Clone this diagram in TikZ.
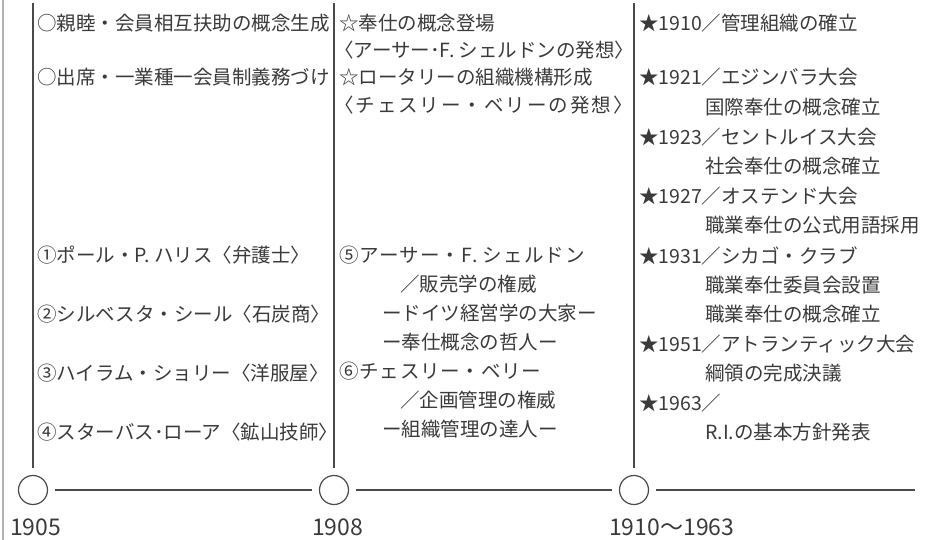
\documentclass[tikz,border=0pt]{standalone}
\usepackage{fontspec}
\setmainfont{Noto Sans CJK JP}
\definecolor{ink}{HTML}{3A3A3A}
\definecolor{rule}{HTML}{4A4A4A}

\begin{document}
\begin{tikzpicture}[x=1pt,y=-1pt,
  txt/.style={anchor=west,inner sep=0pt,text=ink,font=\fontsize{19.5}{20}\selectfont},
  yr/.style={anchor=west,inner sep=0pt,text=ink,font=\fontsize{23}{24}\selectfont},
  era/.style={draw=rule,line width=1.2pt,circle,minimum size=29pt,inner sep=0pt},
  axis/.style={draw=rule,line width=1.8pt}]
\useasboundingbox (0,0) rectangle (940,540);
% edge of the page
\draw[gray!60,line width=1.5pt] (3,0) -- (3,540);
% time axis
\node[era] (c1) at (33,490) {};
\node[era] (c2) at (334,490) {};
\node[era] (c3) at (634,490) {};
\coordinate (t1) at (33,3);
\coordinate (t2) at (334,3);
\coordinate (t3) at (634,3);
\coordinate (axisend) at (915,490);
\foreach \i in {1,2,3}
  \draw[axis,shorten >=7pt] (t\i) -- (c\i.north);
\draw[axis,shorten <=7pt,shorten >=7pt] (c1) -- (c2);
\draw[axis,shorten <=7pt,shorten >=7pt] (c2) -- (c3);
\draw[axis,shorten <=7pt] (c3) -- (axisend);
\node[yr] (y1) at (10,527) {1905};
\node[yr] (y2) at (312,527) {1908};
\node[yr] (y3) at (609,527) {1910〜1963};
% 1905
\foreach \n/\py/\t in {a1/23/○親睦・会員相互扶助の概念生成,a2/77/○出席・一業種一会員制義務づけ,
  a3/255.5/①ポール・P. ハリス〈弁護士〉,a4/314/②シルベスタ・シール〈石炭商〉,
  a5/373/③ハイラム・ショリー〈洋服屋〉,a6/432/④スターバス･ローア〈鉱山技師〉}
  \node[txt] (\n) at (37,\py) {\t};
% 1908
\foreach \n/\px/\py/\t in {b1/339/23/☆奉仕の概念登場,b2/334/50/〈アーサー･F. シェルドンの発想〉,
  b3/339/77/☆ロータリーの組織機構形成,b4/334/105/{\addfontfeatures{LetterSpace=10}〈チェスリー・ベリーの発想〉},
  b5/339/255.5/{\addfontfeatures{LetterSpace=6}⑤アーサー・F. シェルドン},b6/400/284.5/／販売学の権威,
  b7/382/313.5/ードイツ経営学の大家ー,b8/382/342.5/ー奉仕概念の哲人ー,
  b9/339/371.5/{\addfontfeatures{LetterSpace=4}⑥チェスリー・ベリー},b10/400/400.5/／企画管理の権威,
  b11/382/429.5/ー組織管理の達人ー}
  \node[txt] (\n) at (\px,\py) {\t};
% 1910-1963
\foreach \n/\px/\py/\t in {s1/639/23/★1910／管理組織の確立,s2/639/77/★1921／エジンバラ大会,
  s3/705/107/国際奉仕の概念確立,s4/639/137/★1923／セントルイス大会,
  s5/705/166.5/社会奉仕の概念確立,s6/639/196/★1927／オステンド大会,
  s7/705/225.5/職業奉仕の公式用語採用,s8/639/255.5/★1931／シカゴ・クラブ,
  s9/705/285/職業奉仕委員会設置,s10/705/314.5/職業奉仕の概念確立,
  s11/639/344/★1951／アトランティック大会,s12/705/373.5/綱領の完成決議,
  s13/639/403/★1963／,s14/705/432.5/R.I.の基本方針発表}
  \node[txt] (\n) at (\px,\py) {\t};
\end{tikzpicture}
\end{document}
